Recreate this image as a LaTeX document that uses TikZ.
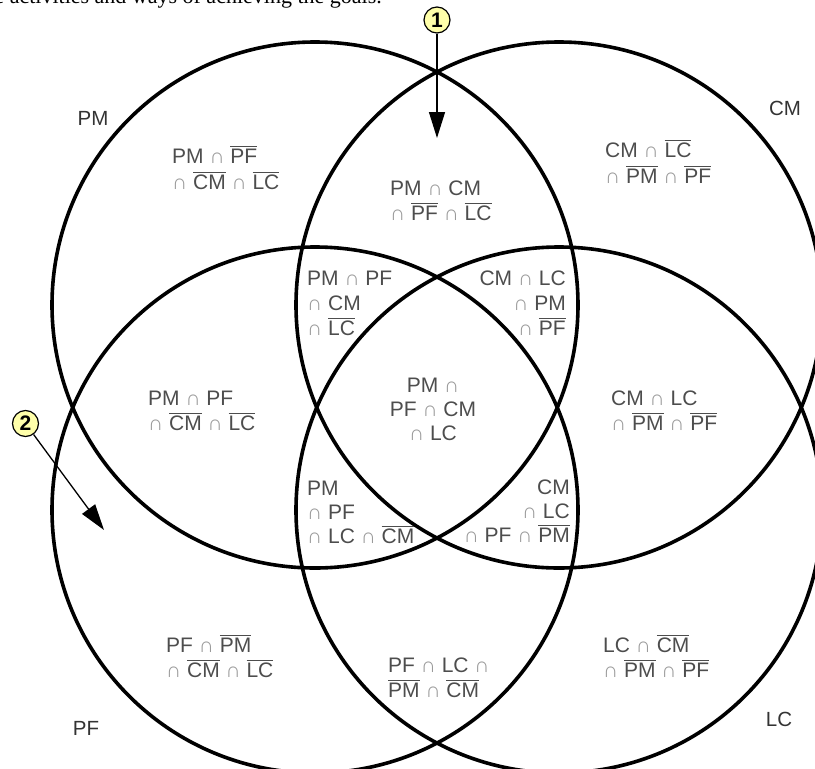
\documentclass[tikz,border=0pt]{standalone}
\usepackage{fontspec}
\setmainfont{Liberation Sans}
\newfontfamily\pageserif{Liberation Serif}
\usetikzlibrary{arrows.meta}
\definecolor{txtgray}{HTML}{4D4D4D}
\definecolor{capgray}{HTML}{9A9A9A}
\definecolor{lblgray}{HTML}{333333}
\definecolor{markfill}{HTML}{FFFFAA}
\newcommand\ovl[1]{\leavevmode\vbox{\hrule height 1pt\kern 1.6pt\hbox{#1}}}
\newcommand\cp{{\color{capgray}∩}}
\newcommand\topstrut{\rule{0pt}{18pt}}
\tikzset{
  vcirc/.style={line width=3.6pt},
  rtext/.style={inner sep=0pt, text=txtgray, font=\fontsize{21}{25}\selectfont},
  setlbl/.style={inner sep=0pt, text=lblgray, font=\fontsize{20.5}{24}\selectfont},
  marker/.style={circle, draw=black, line width=1.2pt, fill=markfill, inner sep=0pt,
    minimum size=26pt, font=\fontsize{21}{21}\selectfont\bfseries},
  pointer/.style={line width=1.3pt, -{Triangle[length=26pt,width=16pt]}}
}
\begin{document}
\begin{tikzpicture}[x=1pt,y=-1pt]
\useasboundingbox (0,0) rectangle (815,769);
\clip (0,0) rectangle (815,769);
% cropped page text at the top
\node[anchor=base east, inner sep=0pt, font=\pageserif\fontsize{22}{24}\selectfont] (pagetext) at (382,3) {the activities and ways of achieving the goals.};
% circles
\draw[vcirc] (315,305) circle[radius=263pt];
\draw[vcirc] (559,305) circle[radius=263pt];
\draw[vcirc] (315,510) circle[radius=263pt];
\draw[vcirc] (559,510) circle[radius=263pt];
% set labels
\node[setlbl] (lPM) at (93,118) {PM};
\node[setlbl] (lCM) at (785,108) {CM};
\node[setlbl] (lPF) at (86,728) {PF};
\node[setlbl] (lLC) at (779,719) {LC};
% region texts
\node[rtext, anchor=north west, align=left, font=\fontsize{21}{26}\selectfont] (r1) at (172,145) {\topstrut PM \cp{} \ovl{PF}\\ \cp{} \ovl{CM} \cp{} \ovl{LC}};
\node[rtext, anchor=north west, align=left, font=\fontsize{21}{26}\selectfont] (r2) at (605,139) {\topstrut CM \cp{} \ovl{LC}\\ \cp{} \ovl{PM} \cp{} \ovl{PF}};
\node[rtext, anchor=north west, align=left] (r3) at (390,177) {\topstrut PM \cp{} CM\\ \cp{} \ovl{PF} \cp{} \ovl{LC}};
\node[rtext, anchor=north west, align=left] (r4) at (307,267) {\topstrut PM \cp{} PF\\ \cp{} CM\\ \cp{} \ovl{LC}};
\node[rtext, anchor=north east, align=right] (r5) at (566,267) {\topstrut CM \cp{} LC\\ \cp{} PM\\ \cp{} \ovl{PF}};
\node[rtext, anchor=north west, align=left] (r6) at (148,387) {\topstrut PM \cp{} PF\\ \cp{} \ovl{CM} \cp{} \ovl{LC}};
\node[rtext, anchor=north, align=center, font=\fontsize{21}{24}\selectfont] (r7) at (433,374) {\topstrut PM \cp\\ PF \cp{} CM\\ \cp{} LC};
\node[rtext, anchor=north west, align=left] (r8) at (611,387) {\topstrut CM \cp{} LC\\ \cp{} \ovl{PM} \cp{} \ovl{PF}};
\node[rtext, anchor=north west, align=left, font=\fontsize{21}{24}\selectfont] (r9) at (307,477) {\topstrut PM\\ \cp{} PF\\ \cp{} LC \cp{} \ovl{CM}};
\node[rtext, anchor=north east, align=right, font=\fontsize{21}{24}\selectfont] (r10) at (570,476) {\topstrut CM\\ \cp{} LC\\ \cp{} PF \cp{} \ovl{PM}};
\node[rtext, anchor=north west, align=left] (r11) at (166,634) {\topstrut PF \cp{} \ovl{PM}\\ \cp{} \ovl{CM} \cp{} \ovl{LC}};
\node[rtext, anchor=north west, align=left] (r12) at (388,654) {\topstrut PF \cp{} LC \cp\\ \ovl{PM} \cp{} \ovl{CM}};
\node[rtext, anchor=north west, align=left] (r13) at (603,634) {\topstrut LC \cp{} \ovl{CM}\\ \cp{} \ovl{PM} \cp{} \ovl{PF}};
% markers and pointers
\node[marker] (m1) at (437,20) {1};
\node[marker] (m2) at (25.5,423.5) {2};
\coordinate (t1) at (437,138);
\coordinate (t2) at (104,530);
\draw[pointer] (m1) -- (t1);
\draw[pointer] (m2) -- (t2);
\end{tikzpicture}
\end{document}
